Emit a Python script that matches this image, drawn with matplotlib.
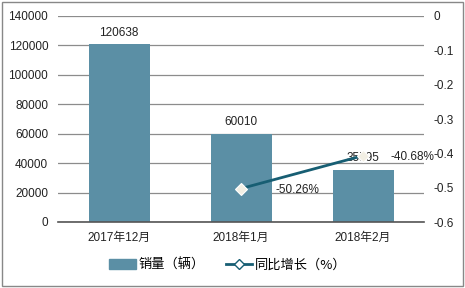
import numpy as np
import matplotlib
matplotlib.use('Agg')
import matplotlib.pyplot as plt
from matplotlib.patches import Rectangle

plt.rcParams['font.family'] = ['Liberation Sans', 'Noto Sans CJK SC', 'DejaVu Sans']

months = ['2017年12月', '2018年1月', '2018年2月']
sales = [120638, 60010, 35595]
growth = [np.nan, -0.5026, -0.4068]
growth_labels = ['', '-50.26%', '-40.68%']

BAR_COLOR = '#5b8fa5'
LINE_COLOR = '#175e73'
TXT = '#222222'

fig = plt.figure(figsize=(4.65, 2.88), dpi=100)
ax = fig.add_axes([58 / 465, 1 - 222 / 288, 366 / 465, 206 / 288])
x = np.arange(len(months))

ax.bar(x, sales, width=0.5, color=BAR_COLOR, zorder=2)
for xi, v in zip(x, sales):
    ax.annotate(str(v), (xi, v), xytext=(0, 4), textcoords='offset points',
                ha='center', va='bottom', fontsize=8.5, color=TXT, zorder=5)

ax.set_xlim(-0.5, len(months) - 0.5)
ax.set_ylim(0, 140000)
ax.set_yticks(np.arange(0, 140001, 20000))
ax.set_xticks(x)
ax.set_xticklabels(months)
ax.grid(axis='y', color='#8c8c8c', linewidth=0.9, zorder=0)
ax.set_axisbelow(True)
for s in ['left', 'right', 'top']:
    ax.spines[s].set_visible(False)
ax.spines['bottom'].set_color('#555555')
ax.spines['bottom'].set_linewidth(1.2)
ax.tick_params(length=0, labelsize=8.5, colors=TXT, pad=7)
ax.tick_params(axis='y', pad=7)

ax2 = ax.twinx()
ax2.plot(x, growth, color=LINE_COLOR, linewidth=2, marker='D', markersize=6,
         markerfacecolor='#f2efe4', markeredgecolor='white', markeredgewidth=0.8, zorder=4)
offsets = [0, 25, 20]
for xi, v, lab, dx in zip(x, growth, growth_labels, offsets):
    if lab:
        ax2.annotate(lab, (xi, v), xytext=(dx, -1), textcoords='offset points',
                     ha='left', va='center', fontsize=8.5, color=TXT)
ax2.set_ylim(-0.6, 0)
ax2.set_yticks(np.round(np.arange(-0.6, 0.01, 0.1), 1))
ax2.set_yticklabels(['-0.6', '-0.5', '-0.4', '-0.3', '-0.2', '-0.1', '0'])
for s in ['left', 'right', 'top', 'bottom']:
    ax2.spines[s].set_visible(False)
ax2.tick_params(length=0, labelsize=8.5, colors=TXT, pad=7)

h1 = Rectangle((0, 0), 1, 1, color=BAR_COLOR)
h2 = plt.Line2D([], [], color=LINE_COLOR, linewidth=2, marker='D', markersize=5,
                markerfacecolor='white', markeredgecolor=LINE_COLOR)
fig.legend([h1, h2], ['销量（辆）', '同比增长（%）'], loc='center',
           bbox_to_anchor=(228 / 465, 1 - 265 / 288), ncol=2, frameon=False,
           handlelength=2.0, handletextpad=0.2, columnspacing=1.6,
           prop={'family': ['Noto Sans CJK SC', 'DejaVu Sans'], 'size': 9.5})

fig.patches.append(Rectangle((2 / 465, 2 / 288), 461 / 465, 284 / 288, transform=fig.transFigure,
                             fill=False, edgecolor='#888888', linewidth=1))

fig.savefig('out.png', dpi=100)
